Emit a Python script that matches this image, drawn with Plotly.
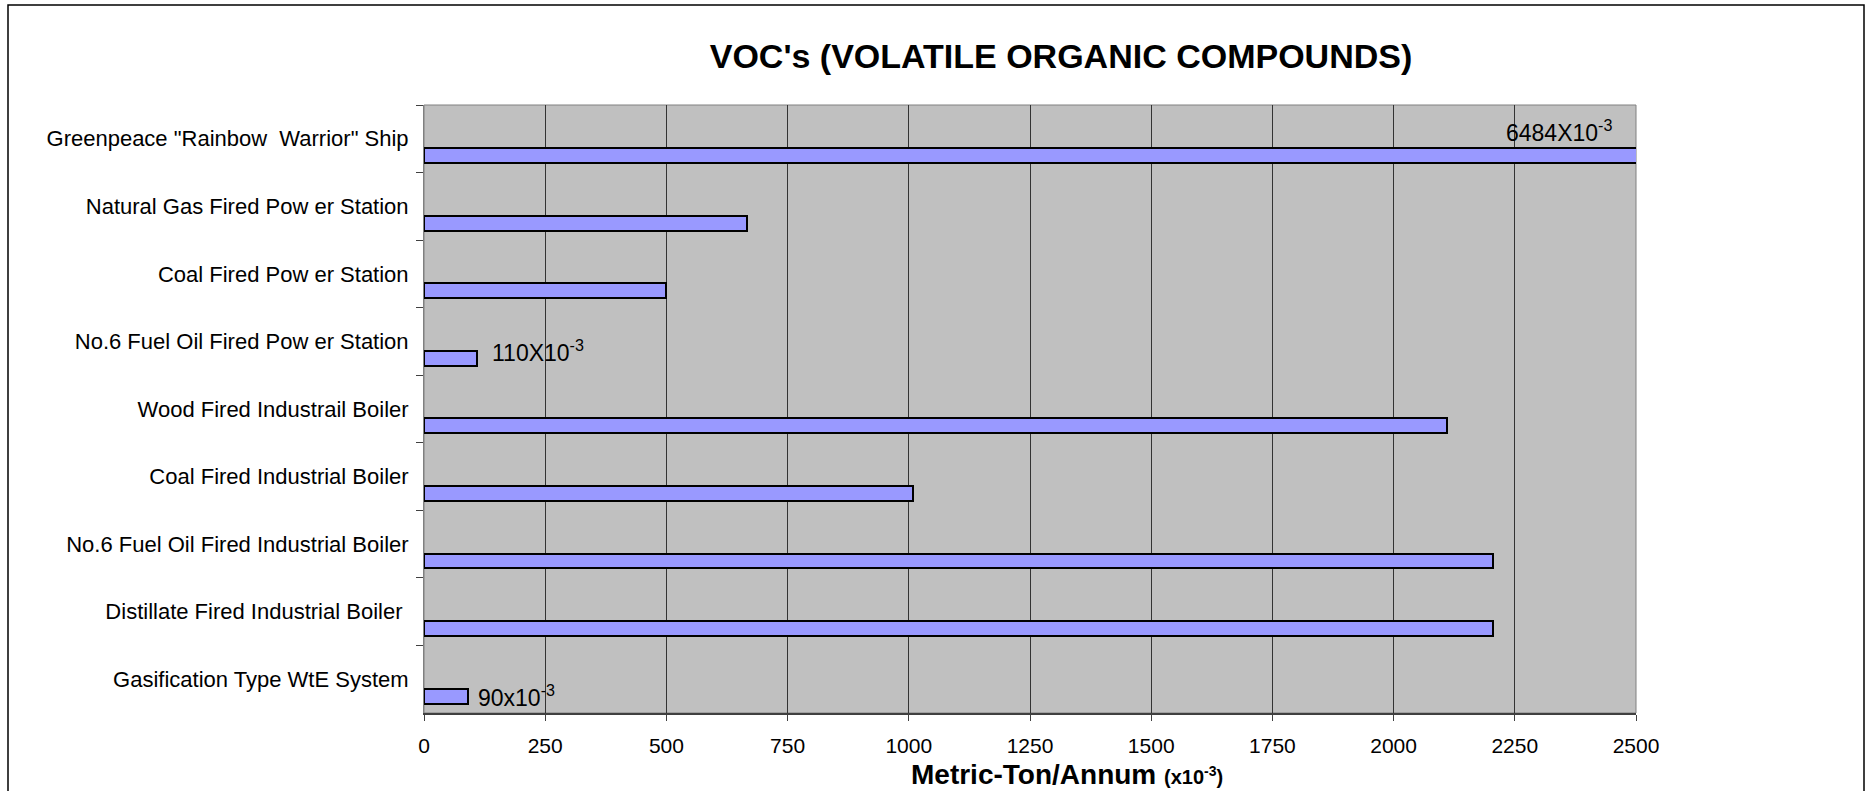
import plotly.graph_objects as go

# categories top -> bottom
categories = [
    'Greenpeace "Rainbow  Warrior" Ship',
    "Natural Gas Fired Pow er Station",
    "Coal Fired Pow er Station",
    "No.6 Fuel Oil Fired Pow er Station",
    "Wood Fired Industrail Boiler",
    "Coal Fired Industrial Boiler",
    "No.6 Fuel Oil Fired Industrial Boiler",
    "Distillate Fired Industrial Boiler ",
    "Gasification Type WtE System",
]
# metric-ton/annum x10^-3
voc_values = [6484, 667, 500, 110, 2110, 1008, 2205, 2205, 90]

# value labels shown on the chart (category -> text)
value_labels = {
    'Greenpeace "Rainbow  Warrior" Ship': "6484X10<sup>-3</sup>",
    "No.6 Fuel Oil Fired Pow er Station": "110X10<sup>-3</sup>",
    "Gasification Type WtE System": "90x10<sup>-3</sup>",
}

x_ticks = [0, 250, 500, 750, 1000, 1250, 1500, 1750, 2000, 2250, 2500]

FONT = "Liberation Sans, Arial, sans-serif"

fig = go.Figure()
fig.add_trace(go.Bar(
    x=voc_values,
    y=categories,
    orientation="h",
    offset=0.14,
    width=0.22,
    marker=dict(color="#9999FF", line=dict(color="black", width=2)),
    hoverinfo="x+y",
    showlegend=False,
))

# label placement: (x in data units, y shift in px relative to band centre)
label_pos = {
    'Greenpeace "Rainbow  Warrior" Ship': (2228, 8),
    "No.6 Fuel Oil Fired Pow er Station": (136, -10),
    "Gasification Type WtE System": (108, -17),
}
for cat, txt in value_labels.items():
    lx, shift = label_pos[cat]
    fig.add_annotation(
        x=lx, y=cat, text=txt, showarrow=False,
        xanchor="left", yanchor="middle", yshift=shift,
        font=dict(family=FONT, size=23, color="black"),
    )

fig.update_xaxes(
    range=[0, 2500],
    tickvals=x_ticks,
    ticktext=[str(v) for v in x_ticks],
    showgrid=True, gridcolor="#333333", gridwidth=1,
    ticks="outside", ticklen=6, tickcolor="#404040",
    showline=True, linecolor="#404040", linewidth=2,
    mirror=False, zeroline=False,
    tickfont=dict(family=FONT, size=21, color="black"),
    ticklabelstandoff=7,
    fixedrange=True,
)
fig.update_yaxes(
    autorange="reversed",
    tickson="boundaries",
    ticks="outside", ticklen=7, tickcolor="#404040",
    showline=True, linecolor="#808080", linewidth=1,
    showgrid=False,
    tickfont=dict(family=FONT, size=22, color="black"),
    ticklabelstandoff=10,
    fixedrange=True,
)

# plot-area border (top/right) and outer chart border
fig.add_shape(type="rect", xref="paper", yref="paper", x0=0, x1=1, y0=0, y1=1,
              line=dict(color="#808080", width=1), layer="below")
fig.add_shape(type="rect", xref="paper", yref="paper",
              x0=(8 - 424) / 1212, x1=(1864 - 424) / 1212,
              y0=-0.2, y1=(713 - 5) / 608,
              line=dict(color="black", width=1.5))

fig.add_annotation(
    x=(1067 - 424) / 1212, y=(713 - 774) / 608, xref="paper", yref="paper",
    text="<b>Metric-Ton/Annum</b> <b><span style='font-size:20px'>(x10<sup>-3</sup>)</span></b>",
    showarrow=False, xanchor="center", yanchor="middle",
    font=dict(family=FONT, size=28, color="black"),
)

fig.update_layout(
    width=1870, height=791,
    margin=dict(l=424, r=234, t=105, b=78),
    paper_bgcolor="white",
    plot_bgcolor="#C0C0C0",
    title=dict(
        text="<b>VOC's (VOLATILE ORGANIC COMPOUNDS)</b>",
        x=1061 / 1870, xanchor="center",
        y=1 - 56 / 791, yanchor="middle",
        font=dict(family=FONT, size=34, color="black"),
    ),
    bargap=0,
)

fig.write_html(
    "out.html",
    config={"displayModeBar": False},
    post_script="document.body.style.margin='0';",
)
